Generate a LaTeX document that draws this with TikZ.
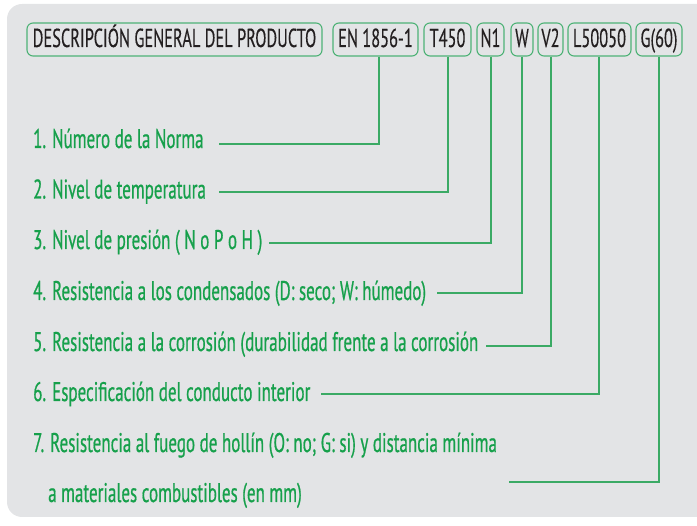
\documentclass[tikz,border=0pt]{standalone}
\usepackage{fontspec}
\setmainfont{PT Sans}[FakeStretch=0.63]
\newfontfamily\lblfont{PT Sans}[FakeStretch=0.63,FakeBold=0.6]
\newfontfamily\hdrfont{PT Sans}[FakeStretch=0.63,FakeBold=0.3]
\definecolor{bgray}{HTML}{E3E4E6}
\definecolor{tgreen}{HTML}{16A04B}
\definecolor{bgreen}{HTML}{4DB276}
\definecolor{lgreen}{HTML}{3BAA65}
\definecolor{hdark}{HTML}{231F20}
\tikzset{
  hbox/.style={draw=bgreen, line width=1.1pt, rounded corners=6pt, minimum height=33pt,
    inner sep=0pt, text height=15pt, text depth=0pt, text=hdark,
    font=\hdrfont\fontsize{26}{26}\selectfont, anchor=center},
  lbl/.style={anchor=base west, inner sep=0pt, text=tgreen, font=\lblfont\fontsize{27}{27}\selectfont},
  conn/.style={draw=lgreen, line width=1.1pt}
}
\begin{document}
\begin{tikzpicture}[x=1pt,y=-1pt]
\useasboundingbox (0,0) rectangle (697,526);
\fill[bgray, rounded corners=15pt] (7,4) rectangle (720,517);
% header boxes
\node[hbox, minimum width=295pt] (desc) at (174.5,39.5) {DESCRIPCIÓN GENERAL DEL PRODUCTO};
\node[hbox, minimum width=85pt] (en) at (375.5,39.5) {EN 1856-1};
\node[hbox, minimum width=47pt] (t450) at (447.5,39.5) {T450};
\node[hbox, minimum width=27pt] (n1) at (490.5,39.5) {N1};
\node[hbox, minimum width=22pt] (w) at (522,39.5) {W};
\node[hbox, minimum width=25pt] (v2) at (550.5,39.5) {V2};
\node[hbox, minimum width=63pt] (l5) at (599.5,39.5) {L50050};
\node[hbox, minimum width=46pt] (g60) at (659,39.5) {G(60)};
% labels
\node[lbl] (t1) at (33,148) {1. Número de la Norma};
\node[lbl] (t2) at (33,198.5) {2. Nivel de temperatura};
\node[lbl] (t3) at (33,249) {3. Nivel de presión ( N o P o H )};
\node[lbl] (t4) at (33,300) {4. Resistencia a los condensados (D: seco; W: húmedo)};
\node[lbl] (t5) at (33,351) {5. Resistencia a la corrosión (durabilidad frente a la corrosión};
\node[lbl] (t6) at (33,401) {6. Especificación del conducto interior};
\node[lbl] (t7) at (33,452) {7. Resistencia al fuego de hollín (O: no; G: si) y distancia mínima};
\node[lbl] (t7b) at (48,502) {a materiales combustibles (en mm)};
% connector ends
\coordinate (e1) at (219,144);
\coordinate (e2) at (219,192);
\coordinate (e3) at (269,243);
\coordinate (e4) at (437,293);
\coordinate (e5) at (486,346);
\coordinate (e6) at (321,394);
\coordinate (e7) at (509,482);
\draw[conn] ([xshift=3.5pt]en.south) |- (e1);
\draw[conn] ([xshift=0.5pt]t450.south) |- (e2);
\draw[conn] ([xshift=0.5pt]n1.south) |- (e3);
\draw[conn] (w.south) |- (e4);
\draw[conn] ([xshift=0.5pt]v2.south) |- (e5);
\draw[conn] ([xshift=-0.5pt]l5.south) |- (e6);
\draw[conn] (g60.south) |- (e7);
\end{tikzpicture}
\end{document}
